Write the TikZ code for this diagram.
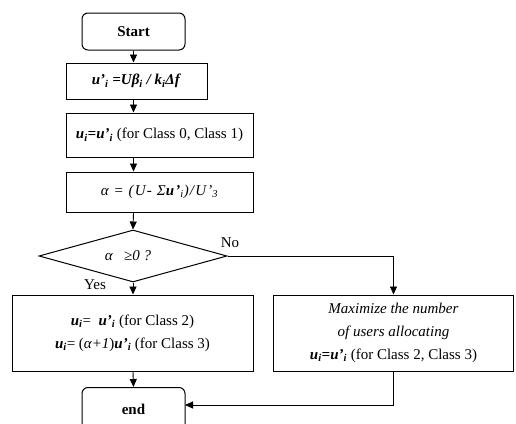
\documentclass[tikz,border=0pt]{standalone}
\usepackage{fontspec}
\setmainfont{Liberation Serif}
\usetikzlibrary{arrows.meta,shapes.geometric}
\newcommand{\bi}[1]{\textbf{\textit{#1}}}
\begin{document}
\begin{tikzpicture}[x=1pt,y=-1pt,
  txt/.style={font=\fontsize{15}{23}\selectfont},
  box/.style={txt,draw,line width=1pt,rectangle,inner sep=0pt,align=center},
  term/.style={box,rounded corners=6pt},
  dec/.style={txt,draw,line width=1pt,diamond,aspect=3.6,inner sep=0pt},
  arr/.style={line width=0.9pt,-{Triangle[width=7pt,length=8pt]}}]
\useasboundingbox (0,0) rectangle (516,423);
\begin{scope}
\clip (0,0) rectangle (516,423);
\node[term,minimum width=103pt,minimum height=37pt] (start) at (133.5,31.5) {\textbf{Start}};
\node[box,minimum width=141pt,minimum height=36pt] (b1) at (136.5,81) {\bi{u'\textsubscript{i} =Uβ\textsubscript{i} / k\textsubscript{i}Δf}};
\node[box,minimum width=187pt,minimum height=44pt] (b2) at (159.5,135) {\bi{u\textsubscript{i}=u'\textsubscript{i}} (for Class 0, Class 1)};
\node[box,minimum width=187pt,minimum height=40pt] (b3) at (159.5,192) {\addfontfeature{LetterSpace=8}\textit{α = (U- Σ\textbf{u'}\textsubscript{i})/U'\textsubscript{3}}};
\node[dec,minimum width=188pt,minimum height=52pt] (d) at (133,256) {\hspace*{-10pt}\textit{α \ \ ≥0 ?}};
\node[box,minimum width=241pt,minimum height=76pt] (yes) at (132.5,333) {\bi{u\textsubscript{i}}= \ \bi{u'\textsubscript{i}} (for Class 2)\\\bi{u\textsubscript{i}}= (\textit{α+1})\bi{u'\textsubscript{i}} (for Class 3)};
\node[box,minimum width=240pt,minimum height=76pt] (no) at (393.5,333) {\textit{Maximize the number}\\\textit{of users allocating}\\\bi{u\textsubscript{i}=u'\textsubscript{i}} (for Class 2, Class 3)};
\node[term,minimum width=103pt,minimum height=50pt,anchor=north] (end) at (133.5,387) {\raisebox{6pt}{\textbf{end}}};
\end{scope}
\coordinate (endin) at (185,405);
\coordinate (c1) at (393.5,256);
\coordinate (c2) at (393.5,405);
\draw[arr] (start.south) -- (start.south |- b1.north);
\draw[arr] (start.south |- b1.south) -- (start.south |- b2.north);
\draw[arr] (start.south |- b2.south) -- (start.south |- b3.north);
\draw[arr] (start.south |- b3.south) -- (d.north);
\draw[arr] (d.south) -- (d.south |- yes.north);
\draw[arr] (d.south |- yes.south) -- (end.north);
\draw[arr] (d.east) -- (c1) -- (no.north);
\draw[arr] (no.south) -- (c2) -- (endin);
\node[txt,anchor=south] (nolab) at (230,251) {No};
\node[txt,anchor=south] (yeslab) at (95,293) {Yes};
\end{tikzpicture}
\end{document}
